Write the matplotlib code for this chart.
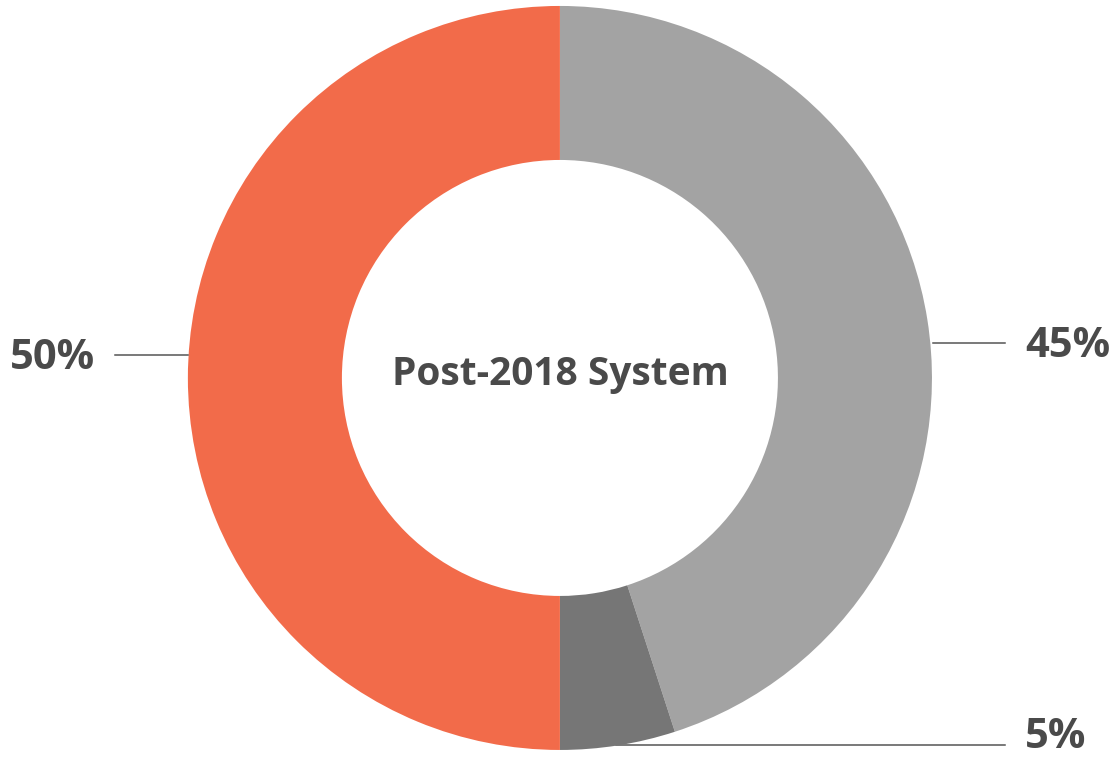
import matplotlib.pyplot as plt

shares = [45, 5, 50]
labels = ["45%", "5%", "50%"]
colors = ["#a3a3a3", "#767676", "#f26b4a"]
center_title = "Post-2018 System"

text_color = "#4a4a4a"
plt.rcParams["font.family"] = ["Open Sans", "DejaVu Sans"]

fig = plt.figure(figsize=(11.15, 7.6), dpi=100)
ax = fig.add_axes([0, 0, 1, 1])
ax.pie(shares, colors=colors, startangle=90, counterclock=False,
       radius=1.0, wedgeprops=dict(width=0.414, linewidth=0))
ax.set_aspect("auto")
ax.set_xlim(-1.505, 1.492)
ax.set_ylim(-1.027, 1.016)
ax.axis("off")

# leader lines and labels (x0, x1, y, text baseline y) per slice
leaders = [(1.003, 1.196, 0.094, 0.057), (0.15, 1.196, -0.987, -0.995),
           (-1.196, -1.0, 0.062, 0.025)]
for (x0, x1, y, ty), lab in zip(leaders, labels):
    ax.plot([x0, x1], [y, y], color="#555555", lw=1.1, zorder=0 if lab == "5%" else 3)
    if x1 > 0:
        ax.text(1.25, ty, lab, ha="left", va="baseline", fontsize=30,
                fontweight="bold", color=text_color)
    else:
        ax.text(-1.25, ty, lab, ha="right", va="baseline", fontsize=30,
                fontweight="bold", color=text_color)

ax.text(0, 0.01, center_title, ha="center", va="center", fontsize=28,
        fontweight="bold", color=text_color)

fig.savefig("out.png", dpi=100)
